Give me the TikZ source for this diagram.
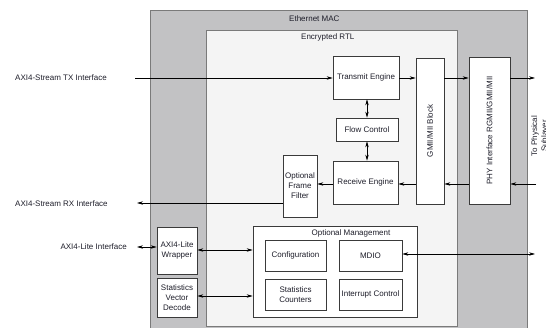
\documentclass[tikz,border=0pt]{standalone}
\usepackage{fontspec}
\setmainfont{Liberation Sans}
\usetikzlibrary{arrows.meta}
\definecolor{macgray}{HTML}{C2C2C4}
\definecolor{rtlfill}{HTML}{F4F4F4}
\definecolor{edgegray}{HTML}{7A7A7A}
\definecolor{boxedge}{HTML}{3A3A3A}
\definecolor{txtcol}{HTML}{1E1E2A}
\begin{document}
\begin{tikzpicture}[x=1pt,y=-1pt,
  font=\fontsize{8}{10}\selectfont, text=txtcol,
  blk/.style={draw=boxedge, line width=0.7pt, fill=white, inner sep=0pt,
    align=center, minimum width=#1},
  vblk/.style={blk=0pt, rotate=90},
  lbl/.style={inner sep=0pt},
  sig/.style={draw=black, line width=0.6pt},
  tip/.style={sig, -{Stealth[length=6pt,width=3.4pt]}},
  both/.style={sig, {Stealth[length=6pt,width=3.4pt]}-{Stealth[length=6pt,width=3.4pt]}}]
\useasboundingbox (0,0) rectangle (546,328);
\clip (0,0) rectangle (546,328);

% containers
\draw[draw=edgegray, line width=0.9pt, fill=macgray] (150,10) rectangle (527,340);
\draw[draw=edgegray, line width=0.9pt, fill=rtlfill] (206,30) rectangle (457,326);
\node[lbl, anchor=west] (macl) at (289,19) {Ethernet MAC};
\node[lbl, anchor=west] (rtll) at (301,37) {Encrypted RTL};

% datapath blocks
\node[blk=66pt, minimum height=43pt] (TE) at (366,77.5) {Transmit Engine};
\node[blk=62pt, minimum height=23pt] (FC) at (367,129.5) {Flow Control};
\node[blk=65pt, minimum height=43pt] (RE) at (365.5,182.5) {Receive Engine};
\node[blk=34pt, minimum height=62pt] (OFF) at (300,186) {Optional\\Frame\\Filter};
\node[blk=146pt, minimum height=28pt, rotate=90] (GM) at (430,131) {GMII/MII Block};
\node[blk=147pt, minimum height=41pt, rotate=90] (PHY) at (489.5,130.5) {PHY Interface RGMII/GMII/MII};

% management blocks
\node[blk=40pt, minimum height=47pt] (WR) at (177,250.5) {AXI4-Lite\\Wrapper};
\node[blk=40pt, minimum height=39pt] (SVD) at (177,297.5) {Statistics\\Vector\\Decode};
\node[blk=164pt, minimum height=91pt] (OM) at (335,271.5) {};
\node[lbl] (oml) at (351,233) {Optional Management};
\node[blk=61pt, minimum height=31pt] (CFG) at (295.5,255.5) {Configuration};
\node[blk=63pt, minimum height=31pt] (MDIO) at (370.5,255.5) {MDIO};
\node[blk=61pt, minimum height=31pt] (SC) at (295.5,294.5) {Statistics\\Counters};
\node[blk=63pt, minimum height=31pt] (IC) at (370.5,294.5) {Interrupt Control};

% interface labels
\node[lbl, anchor=west] (txl) at (15,78) {AXI4-Stream TX Interface};
\node[lbl, anchor=west] (rxl) at (15,204) {AXI4-Stream RX Interface};
\node[lbl, anchor=east] (litel) at (127,247) {AXI4-Lite Interface};
\node[lbl, rotate=90, align=center] (phys) at (540,136) {To Physical\\Sublayer};

% free ends
\coordinate (txin) at (135,78);
\coordinate (txout) at (535,78);
\coordinate (rxin) at (536,184);
\coordinate (rxout) at (137,203);
\coordinate (lite) at (137,247);
\coordinate (mdout) at (535,254);

% transmit path
\draw[tip] (txin) -- (txin -| TE.west);
\draw[tip] (txin -| TE.east) -- (txin -| GM.north);
\draw[tip] (txin -| GM.south) -- (txin -| PHY.north);
\draw[tip] (txin -| PHY.south) -- (txout);

% receive path
\draw[tip] (rxin) -- (rxin -| PHY.south);
\draw[tip] (rxin -| PHY.north) -- (rxin -| GM.south);
\draw[tip] (rxin -| GM.north) -- (rxin -| RE.east);
\draw[tip] (rxin -| RE.west) -- (rxin -| OFF.east);
\draw[tip] (rxout -| OFF.west) -- (rxout);

% flow control
\draw[both] (TE.south -| FC.north) -- (FC.north);
\draw[both] (FC.south) -- (FC.south |- RE.north);

% management links
\draw[both] (lite) -- (lite -| WR.west);
\draw[both] (WR.east |- 0,250) -- (OM.west |- 0,250);
\draw[both] (SVD.east |- 0,296) -- (OM.west |- 0,296);
\draw[both] (MDIO.east |- mdout) -- (mdout);
\end{tikzpicture}
\end{document}
